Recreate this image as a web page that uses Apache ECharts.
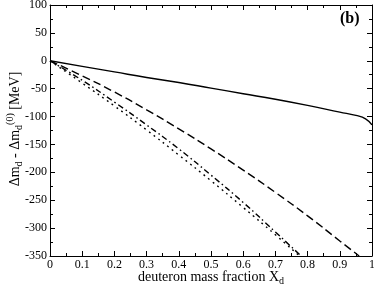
<!DOCTYPE html>
<html><head><meta charset="utf-8">
<script src="https://cdn.jsdelivr.net/npm/echarts@6/dist/echarts.min.js"></script>
<style>html,body{margin:0;padding:0;background:#fff}#c{width:374px;height:288px}</style>
</head><body><div id="c"></div>
<script>
// X values (deuteron mass fraction)
const xSolid   = [0, 0.1, 0.2, 0.3, 0.4, 0.5, 0.6, 0.7, 0.8, 0.9, 0.95, 0.98, 1.0];
const ySolid   = [0, -10, -20, -30, -39, -49, -59, -69, -80, -92, -98, -104, -115];
const xDashed  = [0, 0.1, 0.2, 0.3, 0.4, 0.5, 0.6, 0.7, 0.8, 0.9, 0.96];
const yDashed  = [0, -27, -56, -88, -122, -158, -196, -236, -278, -323, -350];
const xDashDot = [0, 0.1, 0.2, 0.3, 0.4, 0.5, 0.6, 0.7, 0.78];
const yDashDot = [0, -35, -74, -115, -158, -205, -254, -307, -350];
const xDotted  = [0, 0.1, 0.2, 0.3, 0.4, 0.5, 0.6, 0.7, 0.775];
const yDotted  = [0, -40, -81, -124, -169, -215, -263, -312, -350];
const xTicks = [0, 0.1, 0.2, 0.3, 0.4, 0.5, 0.6, 0.7, 0.8, 0.9, 1];
const yTicks = [-350, -300, -250, -200, -150, -100, -50, 0, 50, 100];

const pairs = (xs, ys) => xs.map((x, i) => [x, ys[i]]);
const font = 'Liberation Serif';
const chart = echarts.init(document.getElementById('c'));
const axLine = {show: true, onZero: false, lineStyle: {color: '#000', width: 1}};
const baseX = {
  type: 'value', min: 0, max: 1, interval: 0.1,
  axisLine: axLine, splitLine: {show: false},
  axisTick: {inside: true, length: 5, lineStyle: {color: '#000'}},
  minorTick: {show: true, splitNumber: 2, length: 3, lineStyle: {color: '#000'}}
};
const baseY = {
  type: 'value', min: -350, max: 100, interval: 50,
  axisLine: axLine, splitLine: {show: false},
  axisTick: {inside: true, length: 5, lineStyle: {color: '#000'}},
  minorTick: {show: true, splitNumber: 2, length: 3, lineStyle: {color: '#000'}}
};
const line = (d, type) => ({
  type: 'line', data: d, showSymbol: false, smooth: true, clip: true,
  lineStyle: {color: '#000', width: type === 'dotted' ? 1.8 : 1.4, type: type}
});
const rich = {
  a: {fontFamily: font, fontSize: 14, fill: '#000', color: '#000'},
  s: {fontFamily: font, fontSize: 10, fill: '#000', color: '#000', padding: [9,0,0,0]},
  p: {fontFamily: font, fontSize: 10, fill: '#000', color: '#000', padding: [0,0,10,0]}
};
chart.setOption({
  animation: false,
  grid: {left: 50, right: 2, top: 5, bottom: 32, containLabel: false, outerBoundsMode: 'none'},
  xAxis: [
    Object.assign({}, baseX, {
      position: 'bottom',
      axisLabel: {color: '#000', fontFamily: font, fontSize: 12, margin: 3,
        formatter: v => xTicks.includes(Math.round(v*10)/10) ? String(Math.round(v*10)/10) : ''}
    }),
    Object.assign({}, baseX, {position: 'top', axisLabel: {show: false}})
  ],
  yAxis: [
    Object.assign({}, baseY, {
      position: 'left',
      axisLabel: {color: '#000', fontFamily: font, fontSize: 12, margin: 3}
    }),
    Object.assign({}, baseY, {position: 'right', axisLabel: {show: false}})
  ],
  graphic: [
    {type: 'text', left: 340, top: 11,
      style: {text: '(b)', font: 'bold 16px "Liberation Serif"', fill: '#000'}},
    {type: 'text', x: 211, y: 277,
      style: {text: '{a|deuteron mass fraction X}{s|d}', rich: rich, align: 'center', verticalAlign: 'middle'}},
    {type: 'text', x: 15, y: 129, rotation: Math.PI / 2,
      style: {text: '{a|Δm}{s|d}{a| - Δm}{s|d}{p|(0)}{a| [MeV]}', rich: rich, align: 'center', verticalAlign: 'middle'}}
  ],
  series: [
    line(pairs(xSolid, ySolid), 'solid'),
    line(pairs(xDashed, yDashed), [8, 4]),
    line(pairs(xDashDot, yDashDot), [6, 3, 1.5, 3]),
    line(pairs(xDotted, yDotted), [1.8, 4])
  ]
});
</script></body></html>
